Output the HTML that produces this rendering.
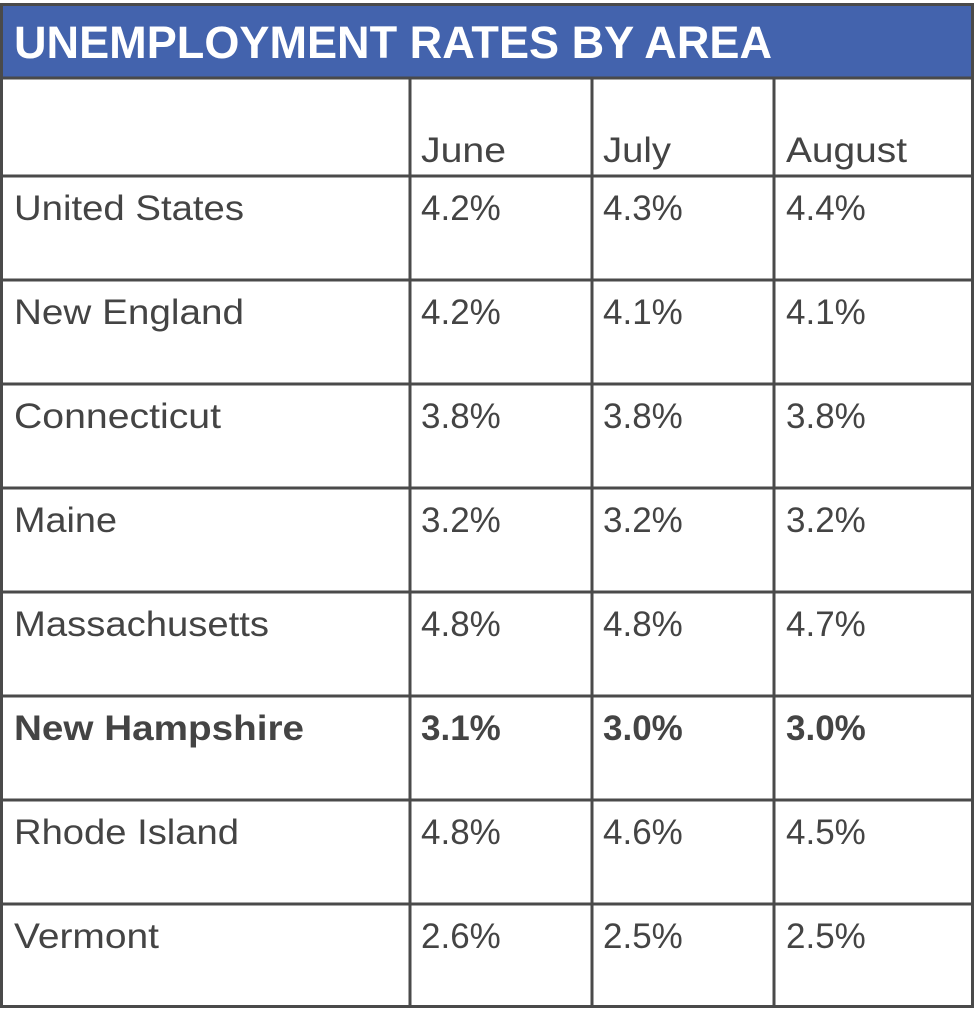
<!DOCTYPE html>
<html><head><style>html,body{margin:0;padding:0;background:#fff}svg{display:block}</style></head>
<body>
<svg width="974" height="1024" viewBox="0 0 974 1024" xmlns="http://www.w3.org/2000/svg" font-family="Liberation Sans, sans-serif">
<rect x="0" y="0" width="974" height="1024" fill="#fff"/>
<rect x="2" y="5" width="970" height="73" fill="#4363ad"/>
<rect x="1.5" y="4.5" width="971" height="1002" fill="none" stroke="#4a4a4a" stroke-width="3"/>
<g stroke="#4a4a4a" stroke-width="3">
<line x1="0" y1="78" x2="974" y2="78"/>
<line x1="0" y1="176" x2="974" y2="176"/>
<line x1="0" y1="280" x2="974" y2="280"/>
<line x1="0" y1="384" x2="974" y2="384"/>
<line x1="0" y1="488" x2="974" y2="488"/>
<line x1="0" y1="592" x2="974" y2="592"/>
<line x1="0" y1="696" x2="974" y2="696"/>
<line x1="0" y1="800" x2="974" y2="800"/>
<line x1="0" y1="904" x2="974" y2="904"/>
<line x1="410" y1="78" x2="410" y2="1007"/>
<line x1="592" y1="78" x2="592" y2="1007"/>
<line x1="774" y1="78" x2="774" y2="1007"/>
</g>
<text x="14" y="58" font-size="45" font-weight="bold" fill="#fff" textLength="758" lengthAdjust="spacingAndGlyphs">UNEMPLOYMENT RATES BY AREA</text>
<g fill="#444" font-size="35">
<text x="421" y="162" textLength="85" lengthAdjust="spacingAndGlyphs">June</text>
<text x="603" y="162" textLength="68" lengthAdjust="spacingAndGlyphs">July</text>
<text x="786" y="162" textLength="121" lengthAdjust="spacingAndGlyphs">August</text>

<text x="14" y="220" textLength="230" lengthAdjust="spacingAndGlyphs">United States</text>
<text x="421" y="220">4.2%</text><text x="603" y="220">4.3%</text><text x="786" y="220">4.4%</text>

<text x="14" y="324" textLength="230" lengthAdjust="spacingAndGlyphs">New England</text>
<text x="421" y="324">4.2%</text><text x="603" y="324">4.1%</text><text x="786" y="324">4.1%</text>

<text x="14" y="428" textLength="207" lengthAdjust="spacingAndGlyphs">Connecticut</text>
<text x="421" y="428">3.8%</text><text x="603" y="428">3.8%</text><text x="786" y="428">3.8%</text>

<text x="14" y="532" textLength="103" lengthAdjust="spacingAndGlyphs">Maine</text>
<text x="421" y="532">3.2%</text><text x="603" y="532">3.2%</text><text x="786" y="532">3.2%</text>

<text x="14" y="636" textLength="255" lengthAdjust="spacingAndGlyphs">Massachusetts</text>
<text x="421" y="636">4.8%</text><text x="603" y="636">4.8%</text><text x="786" y="636">4.7%</text>

<text x="14" y="740" font-weight="bold" textLength="290" lengthAdjust="spacingAndGlyphs">New Hampshire</text>
<text x="421" y="740" font-weight="bold">3.1%</text><text x="603" y="740" font-weight="bold">3.0%</text><text x="786" y="740" font-weight="bold">3.0%</text>

<text x="14" y="844" textLength="225" lengthAdjust="spacingAndGlyphs">Rhode Island</text>
<text x="421" y="844">4.8%</text><text x="603" y="844">4.6%</text><text x="786" y="844">4.5%</text>

<text x="14" y="948" textLength="145" lengthAdjust="spacingAndGlyphs">Vermont</text>
<text x="421" y="948">2.6%</text><text x="603" y="948">2.5%</text><text x="786" y="948">2.5%</text>
</g>
</svg>
</body></html>
